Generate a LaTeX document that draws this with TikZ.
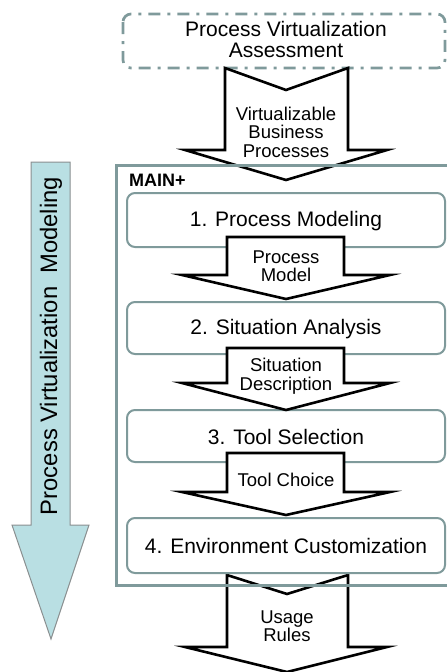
\documentclass[tikz,border=0pt]{standalone}
\usepackage{fontspec}
\setmainfont{Liberation Sans}
\definecolor{boxgray}{HTML}{7F9A9B}
\definecolor{sidefill}{HTML}{B9DFE3}
\definecolor{sidedraw}{HTML}{8A8F90}
\begin{document}
\begin{tikzpicture}[x=1pt,y=-1pt,
  stepbox/.style={draw=boxgray,line width=2pt,rounded corners=8pt,fill=white},
  flow/.style={draw=black,line width=2.6pt,fill=white,line join=miter},
  steptext/.style={font=\fontsize{21}{21}\selectfont,inner sep=0pt},
  flowtext/.style={font=\fontsize{18.5}{18.5}\selectfont,align=center,inner sep=0pt}]
\useasboundingbox (0,0) rectangle (447,672);
% side arrow
\draw[draw=sidedraw,fill=sidefill,line width=1pt] (31,162) -- (70,162) -- (70,525) -- (89,525) -- (51,639) -- (12,525) -- (31,525) -- cycle;
\node[rotate=90,font=\fontsize{23.8}{23.8}\selectfont,inner sep=0pt] (side) at (51,346) {Process Virtualization\hspace{0.55em}Modeling};
% top assessment box
\draw[draw=boxgray,line width=2.7pt,rounded corners=8pt,dash pattern=on 12pt off 7pt on 3pt off 7pt] (123,14) rectangle (445,68);
\node[font=\fontsize{21}{21}\selectfont,align=center,inner sep=0pt] (assess) at (286,39) {Process Virtualization\\Assessment};
% arrow 1
\draw[flow] (225,68) -- (286,90) -- (348,68) -- (348,150) -- (387,150) -- (286,180) -- (185,150) -- (225,150) -- cycle;
\node[flowtext] (vbp) at (286,132) {Virtualizable\\Business\\Processes};
% arrow 5
\draw[flow] (227,575) -- (287,594) -- (348,575) -- (348,647) -- (387,647) -- (287,672) -- (185,647) -- (227,647) -- cycle;
\node[flowtext] (usage) at (287,626) {Usage\\Rules};
% MAIN+ frame
\draw[draw=boxgray,line width=3pt] (452,165) -- (116,165) -- (116,585) -- (452,585);
\node[font=\bfseries\fontsize{18}{18}\selectfont,anchor=west,inner sep=0pt] (main) at (129,180) {MAIN+};
% step boxes
\draw[stepbox] (127,193) rectangle (445,247);
\node[steptext] (s1) at (286,221) {1. Process Modeling};
\draw[stepbox] (127,302) rectangle (445,354);
\node[steptext] (s2) at (286,329) {2. Situation Analysis};
\draw[stepbox] (127,410) rectangle (445,462);
\node[steptext] (s3) at (286,437) {3. Tool Selection};
\draw[stepbox] (127,518) rectangle (445,573);
\node[steptext] (s4) at (286,546) {4. Environment Customization};
% arrows between steps
\draw[flow] (227,237) -- (344,237) -- (344,275) -- (390,275) -- (286,299) -- (182,275) -- (227,275) -- cycle;
\node[flowtext] (pm) at (286,266) {Process\\Model};
\draw[flow] (227,348) -- (344,348) -- (344,383) -- (390,383) -- (286,410) -- (182,383) -- (227,383) -- cycle;
\node[flowtext] (sd) at (286,376) {Situation\\Description};
\draw[flow] (227,453) -- (344,453) -- (344,492) -- (390,492) -- (286,515) -- (182,492) -- (227,492) -- cycle;
\node[flowtext] (tc) at (286,480) {Tool Choice};
\end{tikzpicture}
\end{document}
